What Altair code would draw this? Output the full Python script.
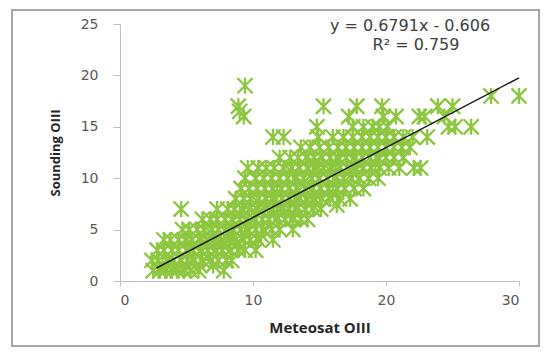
import altair as alt
import pandas as pd

# Meteosat OIII values observed at each Sounding OIII level
meteosat_at_1 = [2.5, 3.0, 3.4, 3.9, 4.3, 4.8, 5.3, 5.9, 7.8]
meteosat_at_2 = [2.4, 2.9, 3.5, 4.0, 4.6, 5.1, 5.6, 6.2, 6.8, 7.4, 8.0, 8.4]
meteosat_at_3 = [2.8, 3.3, 3.9, 4.4, 5.0, 5.5, 6.1, 6.6, 7.2, 7.7, 8.3, 8.9, 9.4, 10.2]
meteosat_at_4 = [3.3, 3.8, 4.4, 4.9, 5.4, 6.0, 6.5, 7.1, 7.6, 8.2, 8.7, 9.3, 9.8, 10.4, 11.5]
meteosat_at_5 = [4.7, 5.2, 5.8, 6.3, 6.9, 7.4, 8.0, 8.5, 9.1, 9.6, 10.2, 10.8, 11.4, 12.0, 13.0]
meteosat_at_6 = [6.2, 6.8, 7.3, 7.9, 8.4, 9.0, 9.5, 10.1, 10.7, 11.2, 11.8, 12.4, 13.0, 13.6, 14.1]
meteosat_at_7 = [4.6, 7.3, 8.1, 8.6, 9.2, 9.7, 10.3, 10.9, 11.5, 12.1, 12.7, 13.3, 13.9, 14.5, 15.1]
meteosat_at_8 = [8.7, 9.3, 9.8, 10.4, 11.0, 11.6, 12.2, 12.8, 13.4, 14.0, 14.6, 15.2, 15.8, 16.5, 17.3]
meteosat_at_9 = [9.1, 9.7, 10.3, 10.9, 11.5, 12.1, 12.7, 13.3, 13.9, 14.5, 15.1, 15.7, 16.3, 16.9, 17.6, 18.3]
meteosat_at_10 = [9.4, 10.2, 10.8, 11.4, 12.0, 12.6, 13.2, 13.8, 14.4, 15.0, 15.6, 16.2, 16.8, 17.4, 18.0, 18.7, 19.4]
meteosat_at_11 = [9.6, 10.4, 11.0, 11.6, 12.3, 12.9, 13.5, 14.1, 14.7, 15.3, 15.9, 16.5, 17.1, 17.7, 18.3, 18.9, 19.5, 20.2, 21.0, 22.1, 22.6]
meteosat_at_12 = [12.0, 12.8, 13.4, 14.0, 14.6, 15.2, 15.8, 16.4, 17.0, 17.6, 18.2, 18.8, 19.4, 20.0, 20.6, 21.3]
meteosat_at_13 = [13.6, 14.3, 15.0, 15.7, 16.4, 17.0, 17.6, 18.2, 18.8, 19.4, 20.0, 20.6, 21.2, 21.8]
meteosat_at_14 = [11.5, 12.3, 14.9, 16.0, 16.8, 17.5, 18.2, 18.8, 19.4, 20.0, 20.6, 21.3, 22.0, 23.1]
meteosat_at_15 = [14.8, 17.5, 18.3, 19.0, 19.5, 20.1, 24.7, 25.2, 26.4]
meteosat_at_16 = [9.3, 17.2, 19.8, 20.75, 22.5, 22.9, 24.4]
meteosat_at_17 = [8.9, 15.3, 17.8, 19.7, 23.9, 25.0]
meteosat_at_18 = [27.9, 30.0]
meteosat_at_19 = [9.4]
# in-between observations (half-step Sounding values) in the dense band
meteosat_mid = [3.2, 4.1, 5.0, 6.0, 7.0, 5.5, 6.6, 7.7, 8.8, 7.0, 8.2, 9.4, 10.6,
                9.0, 10.3, 11.6, 12.8, 10.5, 11.8, 13.1, 14.4, 11.8, 13.2, 14.6, 16.0,
                13.0, 14.5, 16.0, 17.5, 14.6, 16.2, 17.8, 19.2]
sounding_mid = [1.5, 1.5, 1.5, 1.5, 1.5, 3.5, 3.5, 3.5, 3.5, 4.5, 4.5, 4.5, 4.5,
                6.5, 6.5, 6.5, 6.5, 7.5, 7.5, 7.5, 7.5, 8.5, 8.5, 8.5, 8.5,
                10.5, 10.5, 10.5, 10.5, 11.5, 11.5, 11.5, 11.5]
extra_meteosat = [9.0, 16.3]
extra_sounding = [16.5, 7.4]

levels = [
    (1, meteosat_at_1), (2, meteosat_at_2), (3, meteosat_at_3), (4, meteosat_at_4),
    (5, meteosat_at_5), (6, meteosat_at_6), (7, meteosat_at_7), (8, meteosat_at_8),
    (9, meteosat_at_9), (10, meteosat_at_10), (11, meteosat_at_11), (12, meteosat_at_12),
    (13, meteosat_at_13), (14, meteosat_at_14), (15, meteosat_at_15), (16, meteosat_at_16),
    (17, meteosat_at_17), (18, meteosat_at_18), (19, meteosat_at_19),
]

rows = []
for level, xs in levels:
    for x in xs:
        rows.append({"meteosat": x, "sounding": level})
for x, y in zip(meteosat_mid + extra_meteosat, sounding_mid + extra_sounding):
    rows.append({"meteosat": x, "sounding": y})
points = pd.DataFrame(rows)

slope, intercept = 0.6791, -0.606
trend_x = [2.75, 30.0]
trend = pd.DataFrame({"meteosat": trend_x,
                      "sounding": [slope * x + intercept for x in trend_x]})

eq_lines = pd.DataFrame({"label": ["y = 0.6791x - 0.606"]})
r2_lines = pd.DataFrame({"label": ["R² = 0.759"]})
frame_df = pd.DataFrame({"k": [0]})

star = "M-1,-1L1,1M-1,1L1,-1M0,-1.05L0,1.05"

x_enc = alt.X("meteosat:Q",
              scale=alt.Scale(domain=[0, 30], nice=False),
              axis=alt.Axis(values=[0, 10, 20, 30], title="Meteosat OIII",
                            grid=False, tickSize=5, labelPadding=7,
                            labelFontSize=14, titleFontSize=15,
                            titleX=199.5, titleY=46, titleBaseline="middle"))
y_enc = alt.Y("sounding:Q",
              scale=alt.Scale(domain=[0, 25], nice=False),
              axis=alt.Axis(values=[0, 5, 10, 15, 20, 25], title="Sounding OIII",
                            grid=False, tickSize=7, labelPadding=15,
                            labelFontSize=14, titleFontSize=13,
                            titleX=-65, titleY=128.5, titleAngle=270,
                            titleAlign="center", titleBaseline="middle"))

scatter = alt.Chart(points).mark_point(
    shape=star, size=230, filled=False, strokeWidth=2.3, color="#8DC63F", opacity=1
).encode(x=x_enc, y=y_enc)

line = alt.Chart(trend).mark_line(color="#1a1a1a", strokeWidth=1.5).encode(
    x="meteosat:Q", y="sounding:Q")

eq = alt.Chart(eq_lines).mark_text(
    font="DejaVu Sans", fontSize=16, color="#404040", align="center", baseline="middle"
).encode(x=alt.value(290), y=alt.value(2), text="label:N")

r2 = alt.Chart(r2_lines).mark_text(
    font="DejaVu Sans", fontSize=16, color="#404040", align="center", baseline="middle"
).encode(x=alt.value(296), y=alt.value(21), text="label:N")

frame = alt.Chart(frame_df).mark_rect(
    fill=None, stroke="#a6a6a6", strokeWidth=2
).encode(x=alt.value(-108), x2=alt.value(419), y=alt.value(-14), y2=alt.value(322))

chart = alt.layer(frame, scatter, line, eq, r2).properties(
    width=399, height=257,
    padding={"left": 112, "top": 16, "right": 22, "bottom": 67},
    autosize=alt.AutoSizeParams(type="none"),
    background="white",
).configure_view(stroke=None).configure_axis(
    domainColor="#bfbfbf", tickColor="#bfbfbf", domainWidth=1, tickWidth=1,
    labelColor="#595959", labelFont="DejaVu Sans",
    titleFont="Open Sans", titleFontWeight="bold", titleColor="#262626",
)

chart.save("out.html", embed_options={"renderer": "svg", "actions": False})
